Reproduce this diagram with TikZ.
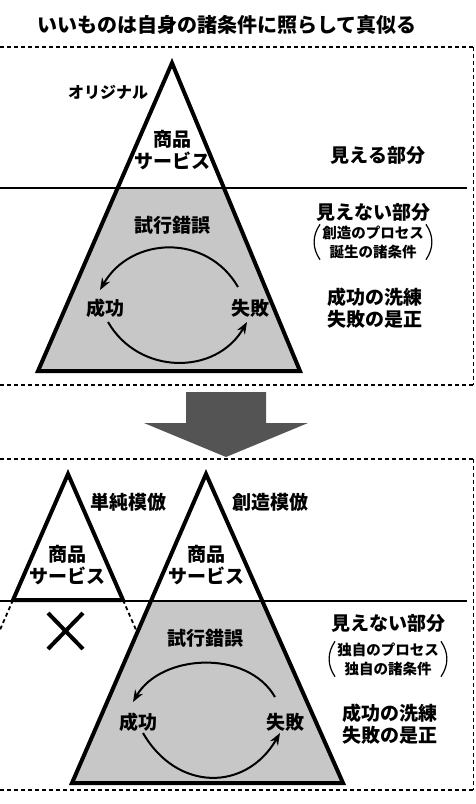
\documentclass[tikz,border=0pt]{standalone}
\usepackage{fontspec}
\setmainfont{Noto Sans CJK JP}
\usetikzlibrary{calc,arrows.meta}
\begin{document}
\begin{tikzpicture}[x=1pt,y=1pt,
  lbl/.style={font=\bfseries\fontsize{19}{22}\selectfont, inner sep=1pt, align=center},
  sml/.style={font=\bfseries\fontsize{16}{19}\selectfont, inner sep=1pt},
  par/.style={font=\bfseries\fontsize{14.5}{19}\selectfont, inner sep=1pt, align=center},
  paren/.style={line width=1.2pt},
  tri/.style={line width=4pt, line join=miter},
  sep/.style={line width=1.8pt},
  frame/.style={line width=1.6pt, dash pattern=on 4pt off 3pt},
  vframe/.style={line width=1pt, dash pattern=on 4pt off 3pt},
  hid/.style={fill=black!22},
  arr/.style={line width=2pt, -{Stealth[length=12pt,width=9pt]}},
  bigarrow/.style={fill=black!67}]
\useasboundingbox (0,0) rectangle (475,-804);

% title
\node[font=\bfseries\fontsize{20}{22}\selectfont] (title) at (227,-25) {いいものは自身の諸条件に照らして真似る};

% frames
\draw[frame] (0,-47) -- (475,-47);
\draw[frame] (0,-385) -- (475,-385);
\draw[vframe] (473,-47) -- (473,-385);
\draw[frame] (0,-459) -- (475,-459);
\draw[frame] (0,-790) -- (475,-790);
\draw[vframe] (473,-459) -- (473,-790);

% ---------- top panel ----------
\coordinate (t1) at (172,-63);
\coordinate (l1) at (38,-371);
\coordinate (r1) at (300,-371);
\fill[hid] ($(t1)!0.406!(l1)$) -- ($(t1)!0.406!(r1)$) -- (r1) -- (l1) -- cycle;
\draw[sep] (0,-188) -- (467,-188);
\draw[tri] (t1) -- (r1) -- (l1) -- cycle;

\node[sml] (orig) at (108,-92) {オリジナル};
\node[lbl] (prod1) at (172,-150) {商品\\サービス};
\node[lbl] (trial1) at (172,-225) {試行錯誤};
\node[lbl] (s1) at (105,-308) {成功};
\node[lbl] (f1) at (250,-308) {失敗};
\draw[arr] ([shift={(-12,21)}]f1.center) to[out=120,in=60,looseness=1.15] ([shift={(-5,18)}]s1.center);
\draw[arr] ([shift={(3,-14)}]s1.center) to[out=-60,in=-120,looseness=1.14] ([shift={(-3,-14)}]f1.center);

\node[lbl] (vis1) at (378,-155) {見える部分};
\node[lbl] (inv1) at (373,-212) {見えない部分};
\node[par] (cond1) at (373,-242) {創造のプロセス\\誕生の諸条件};
\draw[paren] ([xshift=-1pt]cond1.north west) to[bend right=35] ([xshift=-1pt]cond1.south west);
\draw[paren] ([xshift=1pt]cond1.north east) to[bend left=35] ([xshift=1pt]cond1.south east);
\node[lbl] (ref1) at (375,-308) {成功の洗練\\失敗の是正};

% ---------- big arrow ----------
\draw[bigarrow, draw=none] (186,-392) -- (266,-392) -- (266,-423) -- (308,-423)
  -- (226,-457) -- (144,-423) -- (186,-423) -- cycle;

% ---------- bottom panel ----------
\coordinate (t2) at (206,-474);
\coordinate (l2) at (72,-783);
\coordinate (r2) at (343,-783);
\coordinate (t3) at (68,-474);
\coordinate (l3) at (13,-600);
\coordinate (r3) at (123,-600);
\fill[hid] ($(t2)!0.411!(l2)$) -- ($(t2)!0.411!(r2)$) -- (r2) -- (l2) -- cycle;
\draw[sep] (0,-601) -- (467,-601);
\draw[tri] (t3) -- (r3) -- (l3) -- cycle;
\draw[line width=1.8pt, dash pattern=on 4pt off 3pt] (l3) -- ($(t3)!1.25!(l3)$);
\draw[line width=1.8pt, dash pattern=on 4pt off 3pt] (r3) -- ($(t3)!1.25!(r3)$);
\draw[tri] (t2) -- (r2) -- (l2) -- cycle;

% cross
\draw[line width=4pt] (48,-613) -- (83,-649) (48,-649) -- (83,-613);

\node[lbl] (simple) at (128,-502) {単純模倣};
\node[lbl] (creative) at (270,-502) {創造模倣};
\node[lbl] (prod2) at (68,-565) {商品\\サービス};
\node[lbl] (prod3) at (206,-565) {商品\\サービス};
\node[lbl] (trial2) at (205,-638) {試行錯誤};
\node[lbl] (s2) at (138,-722) {成功};
\node[lbl] (f2) at (285,-722) {失敗};
\draw[arr] ([shift={(-10,25)}]f2.center) to[out=120,in=60,looseness=1.0] ([shift={(-5,20)}]s2.center);
\draw[arr] ([shift={(5,-11)}]s2.center) to[out=-60,in=-120,looseness=1.27] ([shift={(-5,-11)}]f2.center);

\node[lbl] (inv2) at (388,-623) {見えない部分};
\node[par] (cond2) at (388,-659) {独自のプロセス\\独自の諸条件};
\draw[paren] ([xshift=-1pt]cond2.north west) to[bend right=35] ([xshift=-1pt]cond2.south west);
\draw[paren] ([xshift=1pt]cond2.north east) to[bend left=35] ([xshift=1pt]cond2.south east);
\node[lbl] (ref2) at (390,-724) {成功の洗練\\失敗の是正};
\end{tikzpicture}
\end{document}
